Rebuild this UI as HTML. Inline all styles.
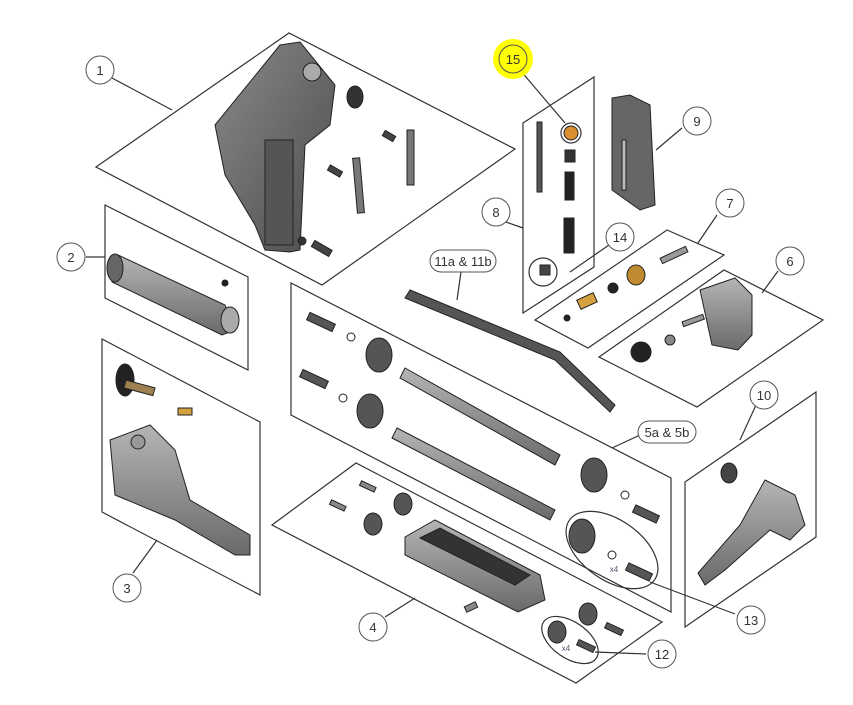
<!DOCTYPE html>
<html><head><meta charset="utf-8"><style>
html,body{margin:0;padding:0;background:#fff;}
svg{display:block;}
text{font-family:"Liberation Sans",sans-serif;font-size:13px;fill:#333;text-anchor:middle;}
</style></head><body>
<svg width="853" height="705" viewBox="0 0 853 705" xmlns="http://www.w3.org/2000/svg">
<defs>
<linearGradient id="g" x1="0" y1="0" x2="1" y2="1"><stop offset="0" stop-color="#8a8a8a"/><stop offset="1" stop-color="#4a4a4a"/></linearGradient>
<linearGradient id="gl" x1="0" y1="0" x2="0" y2="1"><stop offset="0" stop-color="#b5b5b5"/><stop offset="1" stop-color="#6a6a6a"/></linearGradient>
</defs>
<g fill="none" stroke="#333" stroke-width="1.2">
<!-- panels -->
<polygon points="96,167 289,33 515,149 322,285"/>
<polygon points="105,205 248,277 248,370 105,298"/>
<polygon points="102,339 260,422 260,595 102,512"/>
<polygon points="523,123 594,77 594,267 523,313"/>
<polygon points="535,320 667,230 724,255 588,348"/>
<polygon points="599,357 724,270 823,320 697,407"/>
<polygon points="291,283 291,415 671,612 671,478"/>
<polygon points="272,525 356,463 662,622 576,683"/>
<polygon points="685,482 816,392 816,537 685,627"/>
<!-- leader lines -->
<line x1="112" y1="78" x2="172" y2="110"/>
<line x1="86" y1="257" x2="105" y2="257"/>
<line x1="133" y1="573" x2="157" y2="540"/>
<line x1="520" y1="70" x2="565" y2="123"/>
<line x1="506" y1="222" x2="523" y2="228"/>
<line x1="609" y1="245" x2="570" y2="272"/>
<line x1="682" y1="128" x2="656" y2="150"/>
<line x1="717" y1="215" x2="698" y2="243"/>
<line x1="778" y1="271" x2="762" y2="293"/>
<line x1="461" y1="272" x2="457" y2="300"/>
<line x1="640" y1="435" x2="612" y2="448"/>
<line x1="756" y1="405" x2="740" y2="440"/>
<line x1="735" y1="614" x2="650" y2="582"/>
<line x1="646" y1="654" x2="595" y2="652"/>
<line x1="385" y1="617" x2="415" y2="598"/>
<!-- ellipses -->
<ellipse cx="612" cy="550" rx="52" ry="30" transform="rotate(35 612 550)"/>
<ellipse cx="570" cy="640" rx="32" ry="18" transform="rotate(35 570 640)"/>
<circle cx="571" cy="133" r="10"/>
<circle cx="543" cy="272" r="14"/>
</g>
<!-- labels -->
<ellipse cx="513" cy="59" rx="20" ry="20" fill="#ffff00"/>
<g fill="#fff" stroke="#555" stroke-width="1">
<circle cx="100" cy="70" r="14"/>
<circle cx="71" cy="257" r="14"/>
<circle cx="127" cy="588" r="14"/>
<circle cx="513" cy="59" r="14" fill="#ffff00"/>
<circle cx="496" cy="212" r="14"/>
<circle cx="620" cy="237" r="14"/>
<circle cx="697" cy="121" r="14"/>
<circle cx="730" cy="203" r="14"/>
<circle cx="790" cy="261" r="14"/>
<circle cx="764" cy="395" r="14"/>
<circle cx="751" cy="620" r="14"/>
<circle cx="662" cy="654" r="14"/>
<circle cx="373" cy="627" r="14"/>
<rect x="430" y="250" width="66" height="22" rx="11"/>
<rect x="638" y="421" width="58" height="22" rx="11"/>
</g>
<text x="100" y="75">1</text><text x="71" y="262">2</text><text x="127" y="593">3</text>
<text x="513" y="64">15</text><text x="496" y="217">8</text><text x="620" y="242">14</text>
<text x="697" y="126">9</text><text x="730" y="208">7</text><text x="790" y="266">6</text>
<text x="764" y="400">10</text><text x="751" y="625">13</text><text x="662" y="659">12</text>
<text x="373" y="632">4</text><text x="463" y="266">11a &amp; 11b</text><text x="667" y="437">5a &amp; 5b</text>
<text x="614" y="572" style="font-size:8px;fill:#557">x4</text>
<text x="566" y="651" style="font-size:8px;fill:#557">x4</text>
<!-- parts -->
<g stroke="#222" stroke-width="1">
<!-- part 1 plate -->
<path d="M215,125 L280,45 L300,42 L335,85 L330,125 L305,145 L300,250 L290,252 L265,250 L255,225 L225,175 Z" fill="url(#g)"/>
<rect x="265" y="140" width="28" height="105" fill="#555"/>
<circle cx="312" cy="72" r="9" fill="#aaa"/>
<ellipse cx="355" cy="97" rx="8" ry="11" fill="#333"/>
<rect x="355" y="158" width="7" height="55" fill="#777" transform="rotate(-5 358 185)"/>
<rect x="407" y="130" width="7" height="55" fill="#777"/>
<rect x="383" y="133" width="12" height="6" fill="#444" transform="rotate(30 389 136)"/>
<rect x="328" y="168" width="14" height="6" fill="#444" transform="rotate(30 335 171)"/>
<rect x="312" y="245" width="20" height="7" fill="#444" transform="rotate(30 322 248)"/>
<circle cx="302" cy="241" r="4" fill="#333"/>
<!-- part 2 -->
<path d="M118,255 L225,305 L235,330 L222,335 L112,282 Z" fill="url(#gl)"/>
<ellipse cx="115" cy="268" rx="8" ry="14" fill="#666"/>
<ellipse cx="230" cy="320" rx="9" ry="13" fill="#aaa"/>
<circle cx="225" cy="283" r="3" fill="#222"/>
<!-- part 3 -->
<ellipse cx="125" cy="380" rx="9" ry="16" fill="#222"/>
<rect x="125" y="380" width="30" height="8" fill="#a08050" transform="rotate(15 125 384)"/>
<rect x="178" y="408" width="14" height="7" fill="#d4a040"/>
<path d="M110,440 L150,425 L175,450 L190,500 L250,535 L250,555 L235,555 L175,520 L115,495 Z" fill="url(#gl)"/>
<circle cx="138" cy="442" r="7" fill="#999"/>
<!-- part 8 -->
<rect x="537" y="122" width="5" height="70" fill="#555"/>
<circle cx="571" cy="133" r="7" fill="#d89030"/>
<rect x="565" y="150" width="10" height="12" fill="#333"/>
<rect x="565" y="172" width="9" height="28" fill="#222"/>
<rect x="564" y="218" width="10" height="35" fill="#222"/>
<rect x="540" y="265" width="10" height="10" fill="#444"/>
<!-- part 9 -->
<path d="M612,98 L630,95 L650,105 L655,205 L640,210 L612,190 Z" fill="#666"/>
<rect x="622" y="140" width="4" height="50" fill="#bbb"/>
<!-- part 7 -->
<rect x="660" y="252" width="28" height="6" fill="#999" transform="rotate(-25 674 255)"/>
<ellipse cx="636" cy="275" rx="9" ry="10" fill="#c08a30"/>
<circle cx="613" cy="288" r="5" fill="#222"/>
<rect x="578" y="296" width="18" height="10" fill="#d4a040" transform="rotate(-25 587 301)"/>
<circle cx="567" cy="318" r="3" fill="#222"/>
<!-- part 6 -->
<path d="M700,290 L735,278 L752,295 L752,335 L738,350 L712,345 Z" fill="url(#gl)"/>
<rect x="682" y="318" width="22" height="5" fill="#999" transform="rotate(-20 693 320)"/>
<circle cx="641" cy="352" r="10" fill="#222"/>
<circle cx="670" cy="340" r="5" fill="#888"/>
<!-- part 11 screw -->
<path d="M410,290 L560,352 L615,405 L610,412 L555,360 L405,298 Z" fill="#555"/>
<!-- part 5 rods -->
<path d="M405,368 L560,455 L555,465 L400,378 Z" fill="url(#gl)"/>
<path d="M397,428 L555,510 L550,520 L392,438 Z" fill="url(#gl)"/>
<ellipse cx="379" cy="355" rx="13" ry="17" fill="#555"/>
<ellipse cx="370" cy="411" rx="13" ry="17" fill="#555"/>
<ellipse cx="594" cy="475" rx="13" ry="17" fill="#555"/>
<ellipse cx="582" cy="536" rx="13" ry="17" fill="#555"/>
<rect x="307" y="318" width="28" height="8" fill="#555" transform="rotate(25 321 322)"/>
<rect x="300" y="375" width="28" height="8" fill="#555" transform="rotate(25 314 379)"/>
<rect x="633" y="510" width="26" height="8" fill="#555" transform="rotate(25 646 514)"/>
<rect x="626" y="568" width="26" height="8" fill="#555" transform="rotate(25 639 572)"/>
<circle cx="351" cy="337" r="4" fill="none"/>
<circle cx="343" cy="398" r="4" fill="none"/>
<circle cx="625" cy="495" r="4" fill="none"/>
<circle cx="612" cy="555" r="4" fill="none"/>
<!-- part 10 -->
<ellipse cx="729" cy="473" rx="8" ry="10" fill="#444"/>
<path d="M765,480 L795,495 L805,525 L790,540 L770,530 L725,570 L705,585 L698,573 L740,525 Z" fill="url(#gl)"/>
<!-- part 4 -->
<path d="M405,537 L435,520 L540,575 L545,600 L518,612 L405,555 Z" fill="url(#gl)"/>
<path d="M420,538 L440,528 L530,575 L515,585 Z" fill="#333"/>
<ellipse cx="403" cy="504" rx="9" ry="11" fill="#555"/>
<ellipse cx="373" cy="524" rx="9" ry="11" fill="#555"/>
<rect x="360" y="484" width="16" height="5" fill="#888" transform="rotate(25 368 486)"/>
<rect x="330" y="503" width="16" height="5" fill="#888" transform="rotate(25 338 505)"/>
<rect x="465" y="604" width="12" height="6" fill="#888" transform="rotate(-25 471 607)"/>
<ellipse cx="588" cy="614" rx="9" ry="11" fill="#555"/>
<ellipse cx="557" cy="632" rx="9" ry="11" fill="#555"/>
<rect x="605" y="626" width="18" height="6" fill="#555" transform="rotate(25 614 629)"/>
<rect x="577" y="643" width="18" height="6" fill="#555" transform="rotate(25 586 646)"/>
</g>
</svg>
</body></html>
